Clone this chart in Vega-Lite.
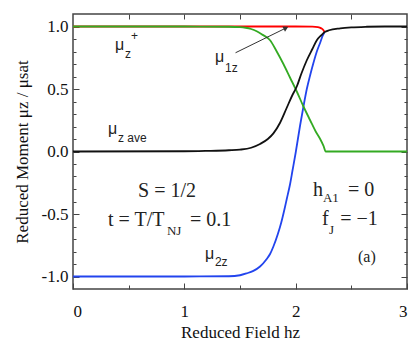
{
  "$schema": "https://vega.github.io/schema/vega-lite/v6.json",
  "width": 334,
  "height": 275,
  "autosize": {"type": "none"},
  "padding": {"left": 73, "top": 14, "right": 8, "bottom": 67},
  "background": "white",
  "config": {
    "view": {"stroke": "#444", "strokeWidth": 1.5},
    "axis": {
      "grid": false,
      "domain": false,
      "tickColor": "#444",
      "tickWidth": 1,
      "labelFont": "Liberation Serif, Times New Roman, serif",
      "labelFontSize": 17,
      "labelColor": "#111",
      "titleFont": "Liberation Serif, Times New Roman, serif",
      "titleFontSize": 17,
      "titleFontWeight": "normal",
      "titleColor": "#111"
    }
  },
  "resolve": {"axis": {"x": "independent", "y": "independent"}},
  "datasets": {
    "curves": [
      {"s": "μ1z", "h": 0, "m": 1}, {"s": "μ1z", "h": 1, "m": 1}, {"s": "μ1z", "h": 2, "m": 1},
      {"s": "μ1z", "h": 2.15, "m": 0.999}, {"s": "μ1z", "h": 2.2, "m": 0.995}, {"s": "μ1z", "h": 2.23, "m": 0.985},
      {"s": "μ1z", "h": 2.25, "m": 0.97}, {"s": "μ1z", "h": 2.26, "m": 0.955},
      {"s": "μ2z", "h": 0, "m": -1}, {"s": "μ2z", "h": 1, "m": -1}, {"s": "μ2z", "h": 1.4, "m": -0.998},
      {"s": "μ2z", "h": 1.5, "m": -0.99}, {"s": "μ2z", "h": 1.56, "m": -0.975}, {"s": "μ2z", "h": 1.62, "m": -0.955},
      {"s": "μ2z", "h": 1.68, "m": -0.92}, {"s": "μ2z", "h": 1.74, "m": -0.86}, {"s": "μ2z", "h": 1.77, "m": -0.82},
      {"s": "μ2z", "h": 1.8, "m": -0.76}, {"s": "μ2z", "h": 1.84, "m": -0.66}, {"s": "μ2z", "h": 1.87, "m": -0.57},
      {"s": "μ2z", "h": 1.9, "m": -0.46}, {"s": "μ2z", "h": 1.92, "m": -0.38}, {"s": "μ2z", "h": 1.95, "m": -0.26},
      {"s": "μ2z", "h": 1.97, "m": -0.16}, {"s": "μ2z", "h": 2.0, "m": -0.01}, {"s": "μ2z", "h": 2.04, "m": 0.21},
      {"s": "μ2z", "h": 2.07, "m": 0.36}, {"s": "μ2z", "h": 2.1, "m": 0.5}, {"s": "μ2z", "h": 2.13, "m": 0.61},
      {"s": "μ2z", "h": 2.16, "m": 0.71}, {"s": "μ2z", "h": 2.19, "m": 0.8}, {"s": "μ2z", "h": 2.22, "m": 0.87},
      {"s": "μ2z", "h": 2.24, "m": 0.92}, {"s": "μ2z", "h": 2.26, "m": 0.955},
      {"s": "μz+", "h": 0, "m": 1}, {"s": "μz+", "h": 1, "m": 1}, {"s": "μz+", "h": 1.4, "m": 0.998},
      {"s": "μz+", "h": 1.5, "m": 0.995}, {"s": "μz+", "h": 1.55, "m": 0.99}, {"s": "μz+", "h": 1.6, "m": 0.98},
      {"s": "μz+", "h": 1.65, "m": 0.962}, {"s": "μz+", "h": 1.7, "m": 0.935}, {"s": "μz+", "h": 1.77, "m": 0.89},
      {"s": "μz+", "h": 1.83, "m": 0.8}, {"s": "μz+", "h": 1.89, "m": 0.7}, {"s": "μz+", "h": 1.95, "m": 0.59},
      {"s": "μz+", "h": 2.01, "m": 0.48}, {"s": "μz+", "h": 2.07, "m": 0.36}, {"s": "μz+", "h": 2.13, "m": 0.25},
      {"s": "μz+", "h": 2.18, "m": 0.16}, {"s": "μz+", "h": 2.22, "m": 0.1}, {"s": "μz+", "h": 2.25, "m": 0.045},
      {"s": "μz+", "h": 2.27, "m": 0.0}, {"s": "μz+", "h": 3, "m": 0},
      {"s": "μz ave", "h": 0, "m": 0}, {"s": "μz ave", "h": 1, "m": 0.002}, {"s": "μz ave", "h": 1.2, "m": 0.005},
      {"s": "μz ave", "h": 1.4, "m": 0.01}, {"s": "μz ave", "h": 1.5, "m": 0.015}, {"s": "μz ave", "h": 1.6, "m": 0.03},
      {"s": "μz ave", "h": 1.68, "m": 0.06}, {"s": "μz ave", "h": 1.75, "m": 0.1}, {"s": "μz ave", "h": 1.8, "m": 0.145},
      {"s": "μz ave", "h": 1.86, "m": 0.23}, {"s": "μz ave", "h": 1.92, "m": 0.35}, {"s": "μz ave", "h": 1.97, "m": 0.45},
      {"s": "μz ave", "h": 2.01, "m": 0.52}, {"s": "μz ave", "h": 2.05, "m": 0.62}, {"s": "μz ave", "h": 2.1, "m": 0.73},
      {"s": "μz ave", "h": 2.15, "m": 0.82}, {"s": "μz ave", "h": 2.19, "m": 0.89}, {"s": "μz ave", "h": 2.23, "m": 0.93},
      {"s": "μz ave", "h": 2.26, "m": 0.955}, {"s": "μz ave", "h": 2.3, "m": 0.97}, {"s": "μz ave", "h": 2.4, "m": 0.985},
      {"s": "μz ave", "h": 2.5, "m": 0.993}, {"s": "μz ave", "h": 2.64, "m": 0.998}, {"s": "μz ave", "h": 2.8, "m": 1},
      {"s": "μz ave", "h": 3, "m": 1}
    ],
    "arrow": [{"h": 1.46, "m": 0.79, "h2": 1.913, "m2": 0.988}],
    "labels": [
      {"t": "μ", "h": 0.377, "m": 0.813, "kind": "sans"},
      {"t": "μ", "h": 1.275, "m": 0.717, "kind": "sans"},
      {"t": "μ", "h": 0.314, "m": 0.143, "kind": "sans"},
      {"t": "μ", "h": 1.186, "m": -0.86, "kind": "sans"},
      {"t": "z", "h": 0.467, "m": 0.749, "kind": "sanssub"},
      {"t": "+", "h": 0.52, "m": 0.89, "kind": "sanssub"},
      {"t": "1z", "h": 1.365, "m": 0.637, "kind": "sanssub"},
      {"t": "z ave", "h": 0.404, "m": 0.08, "kind": "sanssub"},
      {"t": "2z", "h": 1.275, "m": -0.916, "kind": "sanssub"},
      {"t": "S = 1/2", "h": 0.584, "m": -0.367, "kind": "serif"},
      {"t": "t = T/T", "h": 0.314, "m": -0.598, "kind": "serif"},
      {"t": "= 0.1", "h": 1.051, "m": -0.598, "kind": "serif"},
      {"t": "h", "h": 2.156, "m": -0.359, "kind": "serif"},
      {"t": "= 0", "h": 2.47, "m": -0.359, "kind": "serif"},
      {"t": "f", "h": 2.236, "m": -0.59, "kind": "serif"},
      {"t": "= −1", "h": 2.4, "m": -0.59, "kind": "serif"},
      {"t": "NJ", "h": 0.844, "m": -0.669, "kind": "serifsub"},
      {"t": "A1", "h": 2.245, "m": -0.406, "kind": "serifsub"},
      {"t": "J", "h": 2.3, "m": -0.661, "kind": "serifsub"},
      {"t": "(a)", "h": 2.56, "m": -0.885, "kind": "serifsmall"}
    ]
  },
  "layer": [
    {
      "data": {"name": "curves"},
      "mark": {"type": "line", "strokeWidth": 1.8, "interpolate": "monotone"},
      "encoding": {
        "x": {"field": "h", "type": "quantitative", "scale": {"domain": [0, 3], "nice": false},
          "axis": {"orient": "bottom", "values": [0, 1, 2, 3], "format": "d", "tickSize": -6, "labelPadding": 20, "title": "Reduced Field hz", "titlePadding": 5}},
        "y": {"field": "m", "type": "quantitative", "scale": {"domain": [-1.1, 1.1], "nice": false},
          "axis": {"orient": "left", "values": [-1, -0.5, 0, 0.5, 1], "labelExpr": "replace(format(datum.value, '.1f'), '−', '-')", "tickSize": -6, "labelPadding": 11, "title": "Reduced Moment μz / μsat", "titlePadding": 10}},
        "color": {"field": "s", "type": "nominal", "sort": ["μ1z", "μ2z", "μz+", "μz ave"],
          "scale": {"domain": ["μ1z", "μ2z", "μz+", "μz ave"], "range": ["#ff0000", "#2244ee", "#33aa22", "#111111"]}, "legend": null}
      }
    },
    {
      "data": {"name": "arrow"},
      "mark": {"type": "rule", "color": "#333", "strokeWidth": 1},
      "encoding": {
        "x": {"field": "h", "type": "quantitative", "scale": {"domain": [0, 3], "nice": false},
          "axis": {"orient": "bottom", "values": [0.5, 1.5, 2.5], "tickSize": -4, "labels": false, "title": null}},
        "y": {"field": "m", "type": "quantitative", "scale": {"domain": [-1.1, 1.1], "nice": false},
          "axis": {"orient": "left", "values": [-0.9, -0.8, -0.7, -0.6, -0.4, -0.3, -0.2, -0.1, 0.1, 0.2, 0.3, 0.4, 0.6, 0.7, 0.8, 0.9], "tickSize": -3, "labels": false, "title": null}},
        "x2": {"field": "h2"},
        "y2": {"field": "m2"}
      }
    },
    {
      "data": {"name": "arrow"},
      "mark": {"type": "point", "shape": "triangle-right", "angle": -26.6, "size": 35, "filled": true, "color": "#333", "opacity": 1},
      "encoding": {
        "x": {"field": "h2", "type": "quantitative", "scale": {"domain": [0, 3], "nice": false},
          "axis": {"orient": "top", "values": [0.5, 1, 1.5, 2, 2.5], "tickSize": -5, "labels": false, "title": null}},
        "y": {"field": "m2", "type": "quantitative", "scale": {"domain": [-1.1, 1.1], "nice": false},
          "axis": {"orient": "right", "values": [-1, -0.5, 0, 0.5, 1], "tickSize": -6, "labels": false, "title": null}}
      }
    },
    {
      "data": {"name": "labels"},
      "transform": [{"filter": "datum.kind === 'sans'"}],
      "mark": {"type": "text", "align": "left", "baseline": "alphabetic", "font": "Liberation Sans, Arial, sans-serif", "fontSize": 16, "color": "#222"},
      "encoding": {
        "x": {"field": "h", "type": "quantitative", "scale": {"domain": [0, 3], "nice": false}, "axis": null},
        "y": {"field": "m", "type": "quantitative", "scale": {"domain": [-1.1, 1.1], "nice": false},
          "axis": {"orient": "right", "values": [-0.9, -0.8, -0.7, -0.6, -0.4, -0.3, -0.2, -0.1, 0.1, 0.2, 0.3, 0.4, 0.6, 0.7, 0.8, 0.9], "tickSize": -3, "labels": false, "title": null}},
        "text": {"field": "t"}
      }
    },
    {
      "data": {"name": "labels"},
      "transform": [{"filter": "datum.kind === 'sanssub'"}],
      "mark": {"type": "text", "align": "left", "baseline": "alphabetic", "font": "Liberation Sans, Arial, sans-serif", "fontSize": 12, "color": "#222"},
      "encoding": {
        "x": {"field": "h", "type": "quantitative", "scale": {"domain": [0, 3], "nice": false}, "axis": null},
        "y": {"field": "m", "type": "quantitative", "scale": {"domain": [-1.1, 1.1], "nice": false}, "axis": null},
        "text": {"field": "t"}
      }
    },
    {
      "data": {"name": "labels"},
      "transform": [{"filter": "datum.kind === 'serif'"}],
      "mark": {"type": "text", "align": "left", "baseline": "alphabetic", "font": "Liberation Serif, Times New Roman, serif", "fontSize": 20, "color": "#222"},
      "encoding": {
        "x": {"field": "h", "type": "quantitative", "scale": {"domain": [0, 3], "nice": false}, "axis": null},
        "y": {"field": "m", "type": "quantitative", "scale": {"domain": [-1.1, 1.1], "nice": false}, "axis": null},
        "text": {"field": "t"}
      }
    },
    {
      "data": {"name": "labels"},
      "transform": [{"filter": "datum.kind === 'serifsub'"}],
      "mark": {"type": "text", "align": "left", "baseline": "alphabetic", "font": "Liberation Serif, Times New Roman, serif", "fontSize": 13, "color": "#222"},
      "encoding": {
        "x": {"field": "h", "type": "quantitative", "scale": {"domain": [0, 3], "nice": false}, "axis": null},
        "y": {"field": "m", "type": "quantitative", "scale": {"domain": [-1.1, 1.1], "nice": false}, "axis": null},
        "text": {"field": "t"}
      }
    },
    {
      "data": {"name": "labels"},
      "transform": [{"filter": "datum.kind === 'serifsmall'"}],
      "mark": {"type": "text", "align": "left", "baseline": "alphabetic", "font": "Liberation Serif, Times New Roman, serif", "fontSize": 16, "color": "#222"},
      "encoding": {
        "x": {"field": "h", "type": "quantitative", "scale": {"domain": [0, 3], "nice": false}, "axis": null},
        "y": {"field": "m", "type": "quantitative", "scale": {"domain": [-1.1, 1.1], "nice": false}, "axis": null},
        "text": {"field": "t"}
      }
    }
  ]
}
